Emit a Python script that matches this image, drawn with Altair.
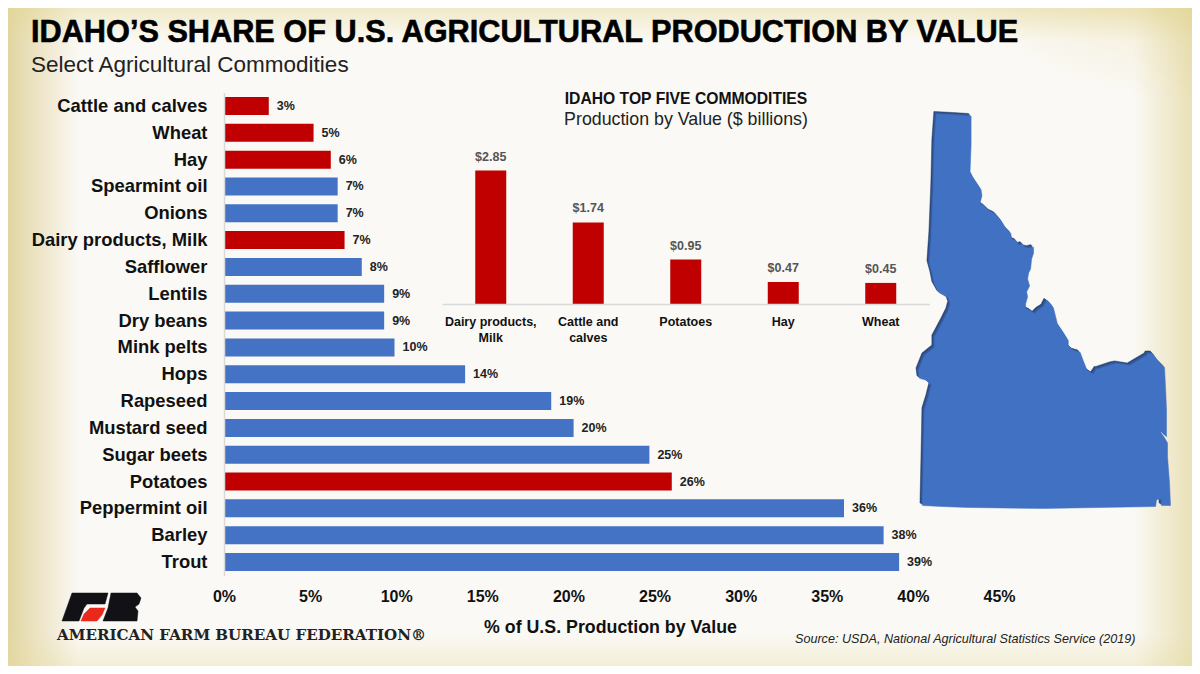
import altair as alt
import pandas as pd

# ---- data ----
commodities = ["Cattle and calves", "Wheat", "Hay", "Spearmint oil", "Onions", "Dairy products, Milk",
               "Safflower", "Lentils", "Dry beans", "Mink pelts", "Hops", "Rapeseed", "Mustard seed",
               "Sugar beets", "Potatoes", "Peppermint oil", "Barley", "Trout"]
shares = [2.6, 5.2, 6.2, 6.6, 6.6, 7.0, 8.0, 9.3, 9.3, 9.9, 14.0, 19.0, 20.3, 24.7, 26.0, 36.0, 38.3, 39.2]
share_labels = ["3%", "5%", "6%", "7%", "7%", "7%", "8%", "9%", "9%", "10%", "14%", "19%", "20%", "25%",
                "26%", "36%", "38%", "39%"]
top_five_flag = ["top", "top", "top", "other", "other", "top", "other", "other", "other", "other", "other",
                 "other", "other", "other", "top", "other", "other", "other"]
top_names = ["Dairy products, Milk", "Cattle and calves", "Potatoes", "Hay", "Wheat"]
top_values = [2.85, 1.74, 0.95, 0.47, 0.45]
top_labels = ["$2.85", "$1.74", "$0.95", "$0.47", "$0.45"]
x_ticks = [0, 5, 10, 15, 20, 25, 30, 35, 40, 45]

# Idaho outline, in map units
idaho_x = [18,37,53,53,52,55,59,63,64,62,67,72,78,83,88,93,94,99,101,105,107,111,116,116,114,113,111,110,112,109,110,108,108,113,117,121,126,129,133,136,138,140,146,151,151,156,163,166,170,176,180,180,195,200,213,218,230,231,236,241,248,249,250,250,246,244,248,251,251,253,254,245,245,240,239,183,126,50,23,4,5,6,10,13,8,1,0,6,16,16,25,30,32,30,21,16,14,11,13,15,16,18]
idaho_y = [0,1,2,31,58,64,70,76,82,90,93,98,101,107,115,120,126,128,132,131,134,135,134,140,146,156,160,166,173,179,184,191,196,198,201,197,194,188,191,195,203,211,220,228,233,238,240,248,258,262,256,257,252,251,253,250,243,241,241,248,255,275,298,325,320,320,326,331,345,371,394,394,388,388,395,396,397,396,395,394,348,298,285,273,268,266,258,243,235,225,208,198,191,185,180,171,161,150,121,71,28,0]
logo_f_x = [17,53,50,32,29,24,7]
logo_f_y = [8,8,19,19,23,36,36]
logo_leaf_x = [35,50,47,42,26,29]
logo_leaf_y = [23,23,30,36,36,29]
logo_b_x = [56,82,86,84,80,83,82,48,53]
logo_b_y = [8,8,13,19,22,26,36,36,23]

W, H = 1184, 658
AXIS_FONT = "Liberation Sans"

df = pd.DataFrame({"name": commodities, "share": shares, "label": share_labels, "flag": top_five_flag})
top = pd.DataFrame({"name": top_names, "value": top_values, "label": top_labels})


def text(s, x, y, size, weight="normal", color="#111111", align="left", style="normal", font=AXIS_FONT, **kw):
    return alt.Chart(pd.DataFrame({"t": [s]})).mark_text(
        align=align, baseline="middle", fontSize=size, fontWeight=weight, color=color,
        fontStyle=style, font=font, **kw
    ).encode(x=alt.value(x - 8), y=alt.value(y - 8), text="t:N")


def panel(fill):
    return alt.Chart(pd.DataFrame({"k": [0]})).mark_rect(fill=fill).encode(
        x=alt.value(0), x2=alt.value(W), y=alt.value(0), y2=alt.value(H))


def edge(x1, y1, x2, y2, color, alpha, stop):
    return panel(alt.LinearGradient(gradient="linear", x1=x1, y1=y1, x2=x2, y2=y2, stops=[
        alt.GradientStop(color=color + alpha, offset=0),
        alt.GradientStop(color=color + "00", offset=stop)]))


def corner(cx, cy, color, alpha, r):
    return panel(alt.RadialGradient(gradient="radial", x1=cx, y1=cy, r1=0, x2=cx, y2=cy, r2=r, stops=[
        alt.GradientStop(color=color + alpha, offset=0),
        alt.GradientStop(color=color + "70", offset=0.55),
        alt.GradientStop(color=color + "00", offset=1)]))


bg = [
    panel("#fbf9f5"),
    edge(0, 0, 1, 0, "#d2c070", "a0", 0.06),
    edge(1, 0, 0, 0, "#d8c878", "80", 0.05),
    edge(0, 0, 0, 1, "#e2d690", "70", 0.05),
    edge(0, 1, 0, 0, "#e6dca2", "60", 0.05),
    corner(1, 0, "#dcc978", "f0", 0.3),
    corner(0, 0, "#dcc978", "e0", 0.22),
    corner(0, 1, "#d6c474", "e0", 0.22),
    corner(1, 1, "#dccb80", "a0", 0.14),
]


def polygon(xs, ys, dom_x, rng_x, dom_y, rng_y, fill, dx=0, dy=0):
    d = pd.DataFrame({"px": xs, "py": ys, "o": range(len(xs))})
    return alt.Chart(d).mark_line(
        interpolate="linear-closed", fill=fill, stroke=fill, strokeWidth=0.5,
        xOffset=dx, yOffset=dy
    ).encode(
        x=alt.X("px:Q", axis=None, scale=alt.Scale(domain=dom_x, range=rng_x, nice=False, zero=False)),
        y=alt.Y("py:Q", axis=None, scale=alt.Scale(domain=dom_y, range=rng_y, nice=False, zero=False)),
        order="o:Q",
    )


main_x = alt.Scale(domain=[0, 45], range=[216, 991], nice=False)
main_y = alt.Scale(domain=commodities, range=[84.6, 567.4], paddingInner=0.33, paddingOuter=0.165)

bars = alt.Chart(df).mark_bar(size=18).encode(
    x=alt.X("share:Q", scale=main_x, axis=alt.Axis(
        values=x_ticks, format=".0f", labelExpr="datum.value + '%'", title="% of U.S. Production by Value",
        orient="bottom", offset=-83, domain=False, ticks=False, grid=False, zindex=1, labelFlush=False,
        labelOverlap=False, labelBound=False,
        labelFont=AXIS_FONT, labelFontSize=16, labelFontWeight="bold", labelColor="#111111", labelPadding=5,
        titleFont=AXIS_FONT, titleFontSize=17.8, titleFontWeight="bold", titleColor="#111111",
        titleX=602, titleY=35)),
    y=alt.Y("name:N", sort=commodities, scale=main_y, title=None, axis=alt.Axis(
        orient="left", offset=-216, ticks=False, domainColor="#d9d9d9", domainWidth=1.5, zindex=1,
        labelFont=AXIS_FONT, labelFontSize=18.4, labelFontWeight="bold", labelColor="#111111",
        labelPadding=17, labelLimit=0, grid=False)),
    color=alt.Color("flag:N", legend=None, scale=alt.Scale(domain=["top", "other"], range=["#c00000", "#4472c4"])),
)
bar_labels = alt.Chart(df).mark_text(
    align="left", baseline="middle", dx=8, fontSize=12.5, fontWeight="bold", font=AXIS_FONT, color="#222222"
).encode(
    x=alt.X("share:Q", scale=main_x, axis=None),
    y=alt.Y("name:N", sort=commodities, scale=main_y, axis=None),
    text="label:N",
)

in_x = alt.Scale(domain=top["name"].tolist(), range=[434, 921.5], paddingInner=0.68, paddingOuter=0.34)
in_y = alt.Scale(domain=[0, 2.85], range=[296, 162.5], nice=False)
in_bars = alt.Chart(top).mark_bar(color="#c00000", size=31).encode(
    x=alt.X("name:N", sort=top["name"].tolist(), scale=in_x, title=None, axis=alt.Axis(
        orient="bottom", offset=-362, ticks=False, domainColor="#d9d9d9", domainWidth=1.5, labelAngle=0, zindex=1,
        labelExpr="split(replace(replace(datum.label, 'products, ', 'products,|'), 'and ', 'and|'), '|')",
        labelFont=AXIS_FONT, labelFontSize=12.5, labelFontWeight="bold", labelColor="#111111",
        labelPadding=11, labelLineHeight=16, labelLimit=0, grid=False)),
    y=alt.Y("value:Q", scale=in_y, axis=None),
)
in_labels = alt.Chart(top).mark_text(
    baseline="bottom", dy=-7, fontSize=12.5, fontWeight="bold", font=AXIS_FONT, color="#555555"
).encode(
    x=alt.X("name:N", sort=top["name"].tolist(), scale=in_x, axis=None),
    y=alt.Y("value:Q", scale=in_y, axis=None),
    text="label:N",
)

id_dom_x, id_rng_x = [0, 254], [908, 1160]
id_dom_y, id_rng_y = [0, 397], [103.5, 498]
idaho = [
    polygon(idaho_x, idaho_y, id_dom_x, id_rng_x, id_dom_y, id_rng_y, "#24416f", 0, 0),
    polygon(idaho_x, idaho_y, id_dom_x, id_rng_x, id_dom_y, id_rng_y, "#34599b", 1, 1),
    polygon(idaho_x, idaho_y, id_dom_x, id_rng_x, id_dom_y, id_rng_y, "#4171c2", 2.5, 2.5),
]

l_dom_x, l_rng_x, l_dom_y, l_rng_y = [0, 91], [47, 138], [0, 39], [577, 616]
logo = [
    polygon(logo_f_x, logo_f_y, l_dom_x, l_rng_x, l_dom_y, l_rng_y, "#111116"),
    polygon(logo_leaf_x, logo_leaf_y, l_dom_x, l_rng_x, l_dom_y, l_rng_y, "#e8291c"),
    polygon(logo_b_x, logo_b_y, l_dom_x, l_rng_x, l_dom_y, l_rng_y, "#111116"),
]

texts = [
    text("IDAHO’S SHARE OF U.S. AGRICULTURAL PRODUCTION BY VALUE", 31, 32.5, 30.7, "bold", "#000000",
         stroke="#000000", strokeWidth=0.6),
    text("Select Agricultural Commodities", 31, 65, 22.5, "normal", "#222222"),
    text("IDAHO TOP FIVE COMMODITIES", 686, 99, 15.7, "bold", "#111111", align="center"),
    text("Production by Value ($ billions)", 686, 119.5, 17.8, "normal", "#222222", align="center"),
    text("Source: USDA, National Agricultural Statistics Service (2019)", 795, 639, 12.6, "normal", "#222222", style="italic"),
    text("AMERICAN FARM BUREAU FEDERATION®", 57, 635, 15.1, "bold", "#222222", font="DejaVu Serif"),
]

layers = bg + [bars, bar_labels, in_bars, in_labels] + idaho + logo + texts
chart = alt.layer(*layers).resolve_scale(x="independent", y="independent", color="independent").resolve_axis(
    x="independent", y="independent"
).properties(width=W, height=H, padding=0, background="#fbf9f5").configure_view(stroke=None)

chart.save("out.html", embed_options={"renderer": "svg", "actions": False})
